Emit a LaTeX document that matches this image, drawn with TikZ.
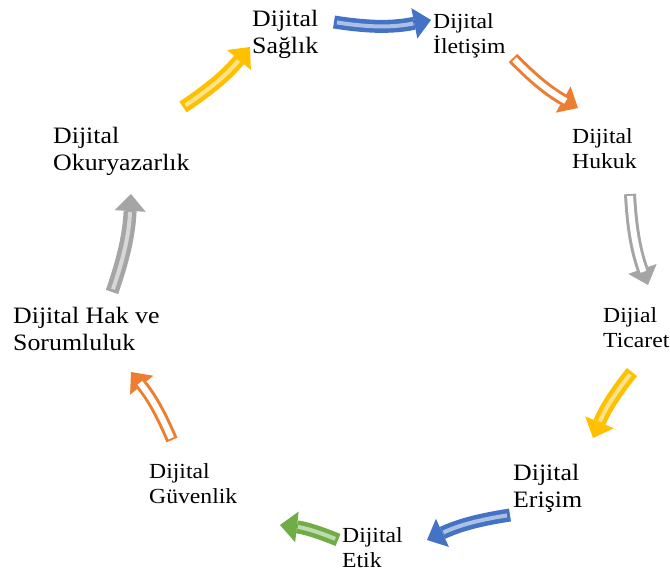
\documentclass[tikz,border=0pt]{standalone}
\usepackage{fontspec}
\setmainfont{Liberation Serif}
\newfontfamily\widefont[FakeStretch=1.1]{Liberation Serif}
\usetikzlibrary{arrows.meta}

\definecolor{accblue}{HTML}{4472C4}
\definecolor{accorange}{HTML}{ED7D31}
\definecolor{accgrey}{HTML}{A5A5A5}
\definecolor{accyellow}{HTML}{FFC000}
\definecolor{accgreen}{HTML}{70AD47}

\begin{document}
\begin{tikzpicture}[x=1pt,y=-1pt,
  lbl/.style={align=left,inner sep=0pt,anchor=base west,font=\widefont\fontsize{21.5}{25}\selectfont},
  biglbl/.style={lbl,font=\widefont\fontsize{23.5}{27}\selectfont},
  fat/.style={draw=#1,line width=13pt,-{Triangle[length=17pt,width=31pt,line width=0pt]},
    postaction={draw=#1!45!white,line width=4pt,-,shorten >=18pt,shorten <=3pt}},
  hollow/.style={draw=#1,line width=12pt,-{Triangle[length=17pt,width=30pt,line width=0pt]},
    postaction={draw=white,line width=6pt,-,shorten >=14pt,shorten <=2pt}}]

\useasboundingbox (0,0) rectangle (670,576);

% Etiketler
\node[biglbl] (sag) at (252,53) {Dijital\\Sağlık};
\node[lbl] (ilet) at (433,53) {Dijital\\İletişim};
\node[lbl] (huk) at (572,168) {Dijital\\Hukuk};
\node[lbl] (tic) at (603,347) {Dijial\\Ticaret};
\node[biglbl] (eris) at (513,507) {Dijital\\Erişim};
\node[lbl] (etik) at (342,567) {Dijital\\Etik};
\node[lbl] (guv) at (149,503) {Dijital\\Güvenlik};
\node[biglbl] (hak) at (13,350) {Dijital Hak ve\\Sorumluluk};
\node[biglbl] (oku) at (53,170) {Dijital\\Okuryazarlık};

% Oklar
\coordinate (a1) at (334,22);  \coordinate (b1) at (431,20);
\coordinate (a2) at (513,58);  \coordinate (b2) at (578,108);
\coordinate (a3) at (630,194); \coordinate (b3) at (648,285);
\coordinate (a4) at (632,372); \coordinate (b4) at (593,438);
\coordinate (a5) at (510,515); \coordinate (b5) at (427,540);
\coordinate (a6) at (338,540); \coordinate (b6) at (280,525);
\coordinate (a7) at (172,440); \coordinate (b7) at (131,372);
\coordinate (a8) at (112,292); \coordinate (b8) at (131,194);
\coordinate (a9) at (183,107); \coordinate (b9) at (250,47);

\draw[fat=accblue] (a1) to[bend right=10] (b1);
\draw[hollow=accorange] (a2) to[bend right=8] (b2);
\draw[hollow=accgrey] (a3) to[bend right=8] (b3);
\draw[fat=accyellow] (a4) to[bend right=8] (b4);
\draw[fat=accblue] (a5) to[bend right=8] (b5);
\draw[fat=accgreen] (a6) to[bend right=8] (b6);
\draw[hollow=accorange] (a7) to[bend right=8] (b7);
\draw[fat=accgrey] (a8) to[bend right=8] (b8);
\draw[fat=accyellow] (a9) to[bend right=8] (b9);

\end{tikzpicture}
\end{document}
